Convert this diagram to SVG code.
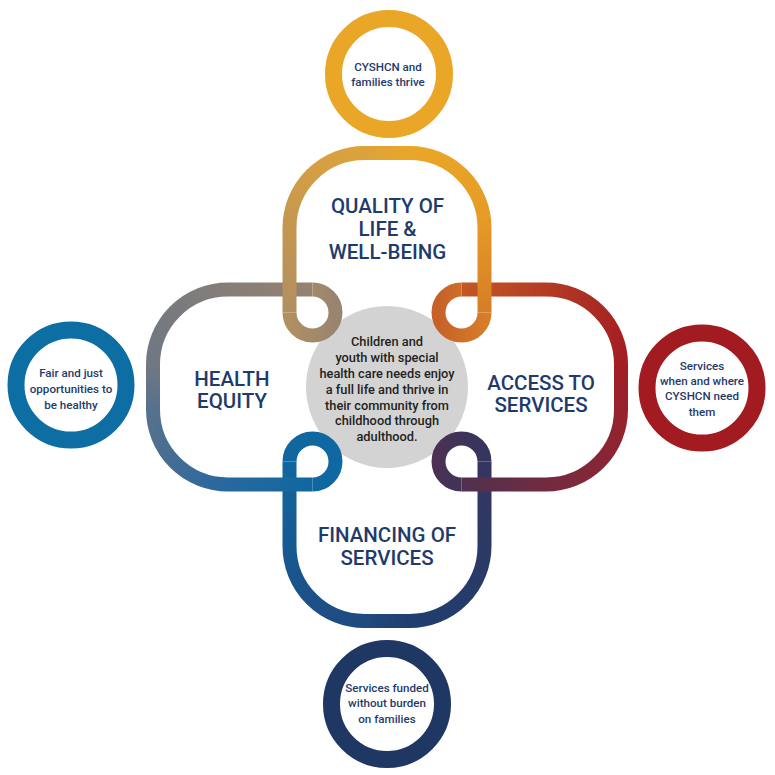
<svg xmlns="http://www.w3.org/2000/svg" width="775" height="775" viewBox="0 0 775 775">
<defs>
<style>
.rib{fill:none;stroke-width:14;stroke-linecap:butt;stroke-linejoin:round}
.ring{fill:#fff;stroke-width:17}
.title{font-family:Roboto,"Liberation Sans",sans-serif;font-size:20.5px;font-weight:500;fill:#1F3B6C;text-anchor:middle}
.ctext{font-family:Roboto,"Liberation Sans",sans-serif;font-size:11.6px;font-weight:500;fill:#1F3B6C;text-anchor:middle}
.mid{font-family:Roboto,"Liberation Sans",sans-serif;font-size:12.8px;font-weight:500;fill:#231F20;text-anchor:middle}
</style>
<linearGradient id="qa" gradientUnits="userSpaceOnUse" x1="289.5" y1="312.5" x2="364.5" y2="153"><stop offset="0" stop-color="#B08F62"/><stop offset="1" stop-color="#DDA23C"/></linearGradient>
<linearGradient id="qb" gradientUnits="userSpaceOnUse" x1="364.5" y1="153" x2="409.5" y2="153"><stop offset="0" stop-color="#DDA23C"/><stop offset="1" stop-color="#E9A628"/></linearGradient>
<linearGradient id="qc" gradientUnits="userSpaceOnUse" x1="409.5" y1="153" x2="484.5" y2="312.5"><stop offset="0" stop-color="#E9A628"/><stop offset="0.5" stop-color="#E69C27"/><stop offset="1" stop-color="#D67D28"/></linearGradient>
<linearGradient id="ha" gradientUnits="userSpaceOnUse" x1="312.5" y1="289.5" x2="153" y2="364.5"><stop offset="0" stop-color="#958270"/><stop offset="1" stop-color="#707882"/></linearGradient>
<linearGradient id="hb" gradientUnits="userSpaceOnUse" x1="153" y1="364.5" x2="153" y2="409.5"><stop offset="0" stop-color="#707882"/><stop offset="1" stop-color="#56718E"/></linearGradient>
<linearGradient id="hc" gradientUnits="userSpaceOnUse" x1="153" y1="409.5" x2="312.5" y2="484.5"><stop offset="0" stop-color="#56718E"/><stop offset="0.5" stop-color="#2C689C"/><stop offset="1" stop-color="#0F68A2"/></linearGradient>
<linearGradient id="fa" gradientUnits="userSpaceOnUse" x1="289.5" y1="461.5" x2="364.5" y2="621"><stop offset="0" stop-color="#11669F"/><stop offset="1" stop-color="#1F4A80"/></linearGradient>
<linearGradient id="fb" gradientUnits="userSpaceOnUse" x1="364.5" y1="621" x2="409.5" y2="621"><stop offset="0" stop-color="#1F4A80"/><stop offset="1" stop-color="#203E6E"/></linearGradient>
<linearGradient id="fc" gradientUnits="userSpaceOnUse" x1="409.5" y1="621" x2="484.5" y2="461.5"><stop offset="0" stop-color="#203E6E"/><stop offset="1" stop-color="#35365F"/></linearGradient>
<linearGradient id="aa" gradientUnits="userSpaceOnUse" x1="461.5" y1="484.5" x2="621" y2="409.5"><stop offset="0" stop-color="#50304F"/><stop offset="0.5" stop-color="#772A3E"/><stop offset="1" stop-color="#96222E"/></linearGradient>
<linearGradient id="ab" gradientUnits="userSpaceOnUse" x1="621" y1="409.5" x2="621" y2="364.5"><stop offset="0" stop-color="#96222E"/><stop offset="1" stop-color="#A31D22"/></linearGradient>
<linearGradient id="ac" gradientUnits="userSpaceOnUse" x1="621" y1="364.5" x2="461.5" y2="289.5"><stop offset="0" stop-color="#A31D22"/><stop offset="0.5" stop-color="#B13725"/><stop offset="1" stop-color="#C45722"/></linearGradient>
<linearGradient id="ltl" gradientUnits="userSpaceOnUse" x1="289.5" y1="0" x2="336" y2="0"><stop offset="0" stop-color="#B08F62"/><stop offset="1" stop-color="#998470"/></linearGradient>
<linearGradient id="ltr" gradientUnits="userSpaceOnUse" x1="484.5" y1="0" x2="438.5" y2="0"><stop offset="0" stop-color="#D67D28"/><stop offset="1" stop-color="#C7612A"/></linearGradient>
<linearGradient id="lbl" gradientUnits="userSpaceOnUse" x1="289.5" y1="0" x2="336" y2="0"><stop offset="0" stop-color="#11669F"/><stop offset="1" stop-color="#0F68A2"/></linearGradient>
<linearGradient id="lbr" gradientUnits="userSpaceOnUse" x1="484.5" y1="0" x2="438.5" y2="0"><stop offset="0" stop-color="#35365F"/><stop offset="1" stop-color="#4A3153"/></linearGradient>
</defs>
<rect width="775" height="775" fill="#fff"/>

<g id="node-center">
<circle cx="387" cy="387" r="81" fill="#D3D3D3"/>
<text class="mid" x="387" y="346">Children and</text>
<text class="mid" x="387" y="362">youth with special</text>
<text class="mid" x="387" y="378">health care needs enjoy</text>
<text class="mid" x="387" y="394">a full life and thrive in</text>
<text class="mid" x="387" y="410">their community from</text>
<text class="mid" x="387" y="425">childhood through</text>
<text class="mid" x="387" y="441">adulthood.</text>
</g>

<g id="node-financing">
<path class="rib" stroke="url(#fa)" d="M289.5 461.5 L289.5 546 A75 75 0 0 0 364.5 621"/>
<path class="rib" stroke="url(#fb)" d="M364 621 L410 621"/>
<path class="rib" stroke="url(#fc)" d="M409.5 621 A75 75 0 0 0 484.5 546 L484.5 461.5"/>
<text class="title" x="387" y="542">FINANCING OF</text>
<text class="title" x="387" y="565">SERVICES</text>
</g>

<g id="node-health-equity">
<path class="rib" stroke="url(#ha)" d="M312.5 289.5 L228 289.5 A75 75 0 0 0 153 364.5"/>
<path class="rib" stroke="url(#hb)" d="M153 364 L153 410"/>
<path class="rib" stroke="url(#hc)" d="M153 409.5 A75 75 0 0 0 228 484.5 L312.5 484.5"/>
<text class="title" x="232" y="386">HEALTH</text>
<text class="title" x="232" y="408">EQUITY</text>
</g>

<g id="node-access">
<path class="rib" stroke="url(#aa)" d="M461.5 484.5 L546 484.5 A75 75 0 0 0 621 409.5"/>
<path class="rib" stroke="url(#ab)" d="M621 410 L621 364"/>
<path class="rib" stroke="url(#ac)" d="M621 364.5 A75 75 0 0 0 546 289.5 L461.5 289.5"/>
<text class="title" x="541" y="390">ACCESS TO</text>
<text class="title" x="541" y="412">SERVICES</text>
</g>

<g id="connectors">
<path class="rib" stroke="url(#ltl)" d="M289.5 312.5 A23 23 0 1 0 312.5 289.5"/>
<path class="rib" stroke="url(#ltr)" d="M484.5 312.5 A23 23 0 1 1 461.5 289.5"/>
<path class="rib" stroke="url(#lbl)" d="M312.5 484.5 A23 23 0 1 0 289.5 461.5"/>
<path class="rib" stroke="url(#lbr)" d="M484.5 461.5 A23 23 0 1 0 461.5 484.5"/>
</g>

<g id="node-quality">
<path class="rib" stroke="url(#qa)" d="M289.5 312.5 L289.5 228 A75 75 0 0 1 364.5 153"/>
<path class="rib" stroke="url(#qb)" d="M364 153 L410 153"/>
<path class="rib" stroke="url(#qc)" d="M409.5 153 A75 75 0 0 1 484.5 228 L484.5 312.5"/>
<text class="title" x="387.5" y="213">QUALITY OF</text>
<text class="title" x="387.5" y="236">LIFE &amp;</text>
<text class="title" x="387.5" y="259">WELL-BEING</text>
</g>

<g id="node-thrive">
<circle class="ring" cx="389" cy="74" r="55.5" stroke="#EAA627"/>
<text class="ctext" x="388" y="71">CYSHCN and</text>
<text class="ctext" x="388" y="86">families thrive</text>
</g>

<g id="node-fair">
<circle class="ring" cx="71" cy="385" r="55" stroke="#0D6EA3"/>
<text class="ctext" x="71" y="377">Fair and just</text>
<text class="ctext" x="71" y="393">opportunities to</text>
<text class="ctext" x="71" y="409">be healthy</text>
</g>

<g id="node-when">
<circle class="ring" cx="702" cy="388" r="55" stroke="#A21B21"/>
<text class="ctext" x="702" y="370">Services</text>
<text class="ctext" x="702" y="385">when and where</text>
<text class="ctext" x="702" y="400">CYSHCN need</text>
<text class="ctext" x="702" y="416">them</text>
</g>

<g id="node-funded">
<circle class="ring" cx="387" cy="704" r="55.5" stroke="#1F3763"/>
<text class="ctext" x="387" y="692">Services funded</text>
<text class="ctext" x="387" y="707">without burden</text>
<text class="ctext" x="387" y="723">on families</text>
</g>
</svg>
